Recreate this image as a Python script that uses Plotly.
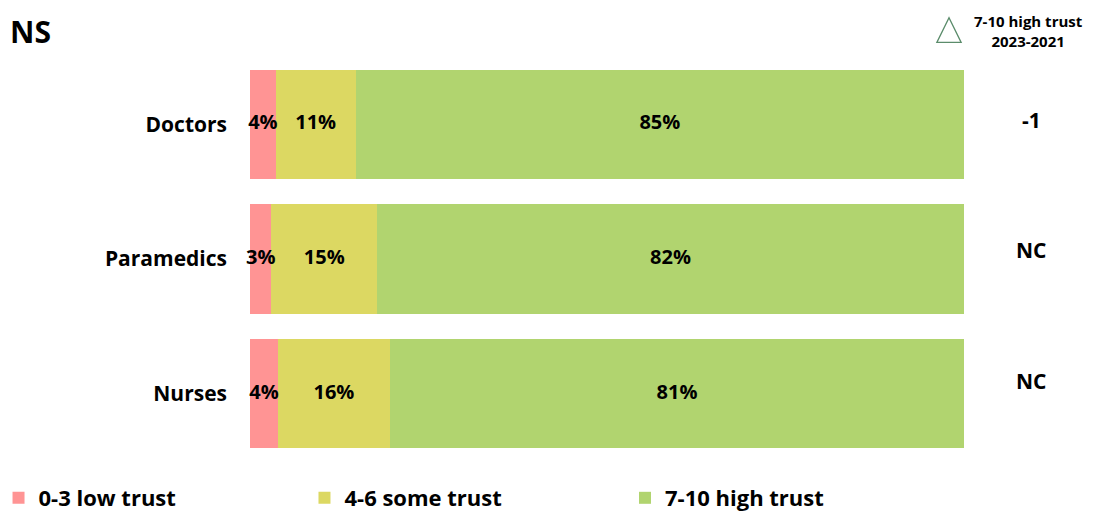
import plotly.graph_objects as go
import numpy as np

categories = ["Doctors", "Paramedics", "Nurses"]
series_names = ["0-3 low trust", "4-6 some trust", "7-10 high trust"]
low_trust = [3.6, 3.0, 3.9]
some_trust = [11.2, 14.8, 15.7]
high_trust = [85.2, 82.2, 80.4]
low_labels = ["4%", "3%", "4%"]
some_labels = ["11%", "15%", "16%"]
high_labels = ["85%", "82%", "81%"]
change_labels = ["-1", "NC", "NC"]
colors = ["#FF9494", "#DCD862", "#B1D46F"]

FONT = "Open Sans"
fig = go.Figure()
series = [low_trust, some_trust, high_trust]
labels = [low_labels, some_labels, high_labels]
legend_ids = ["legend", "legend2", "legend3"]
base = np.zeros(len(categories))
for name, vals, col, lg in zip(series_names, series, colors, legend_ids):
    fig.add_trace(go.Bar(y=categories, x=vals, name=name, orientation="h",
                         marker=dict(color=col, line=dict(width=0)),
                         legend=lg, hoverinfo="skip"))
for vals, labs in zip(series, labels):
    v = np.array(vals)
    mids = base + v / 2
    fig.add_trace(go.Scatter(y=categories, x=mids, mode="text", text=labs,
                             textfont=dict(family=FONT, size=20, color="black", weight="bold"),
                             showlegend=False, cliponaxis=False, hoverinfo="skip"))
    base = base + v

change_shifts = [4, 9, 13]
for cat, lab, sh in zip(categories, change_labels, change_shifts):
    fig.add_annotation(x=1.094, xref="paper", xanchor="center", y=cat, yref="y",
                       yanchor="middle", yshift=sh,
                       text=lab, showarrow=False,
                       font=dict(family=FONT, size=21, color="black", weight="bold"))

fig.add_annotation(x=1.091, xref="paper", xanchor="center", y=1.0654, yref="paper",
                   yanchor="middle",
                   text="7-10 high trust<br>2023-2021", showarrow=False,
                   font=dict(family=FONT, size=15, color="black", weight="bold"))
fig.add_shape(type="path", xref="paper", yref="paper",
              path="M 0.962 1.036 L 0.996 1.036 L 0.979 1.0975 Z",
              line=dict(color="#5B8C6B", width=1.3), fillcolor="rgba(0,0,0,0)")
fig.add_annotation(x=-0.3389, xref="paper", xanchor="left", y=1.1195, yref="paper",
                   yanchor="top",
                   text="NS", showarrow=False,
                   font=dict(family=FONT, size=30, color="black", weight="bold"))

legend_style = dict(orientation="h", xanchor="left", yref="container", y=0.0297,
                    yanchor="middle", bgcolor="rgba(0,0,0,0)",
                    font=dict(family=FONT, size=22, color="black", weight="bold"))

# the page body adds an 8px offset: figure is 8px smaller, margins shifted
fig.update_layout(
    width=1097, height=505,
    margin=dict(l=242, r=141, t=48.5, b=51.5, autoexpand=False),
    barmode="stack", bargap=0.19,
    plot_bgcolor="white", paper_bgcolor="white",
    font=dict(family=FONT, color="black", weight="bold"),
    xaxis=dict(range=[0, 100], visible=False, fixedrange=True),
    yaxis=dict(autorange="reversed", showgrid=False, showline=False, ticks="",
               tickfont=dict(family=FONT, size=21, color="black", weight="bold"),
               ticklabelstandoff=22),
    legend=dict(x=-0.3522, **legend_style),
    legend2=dict(x=0.0763, **legend_style),
    legend3=dict(x=0.5252, **legend_style),
    showlegend=True,
)
fig.write_html("out.html")
